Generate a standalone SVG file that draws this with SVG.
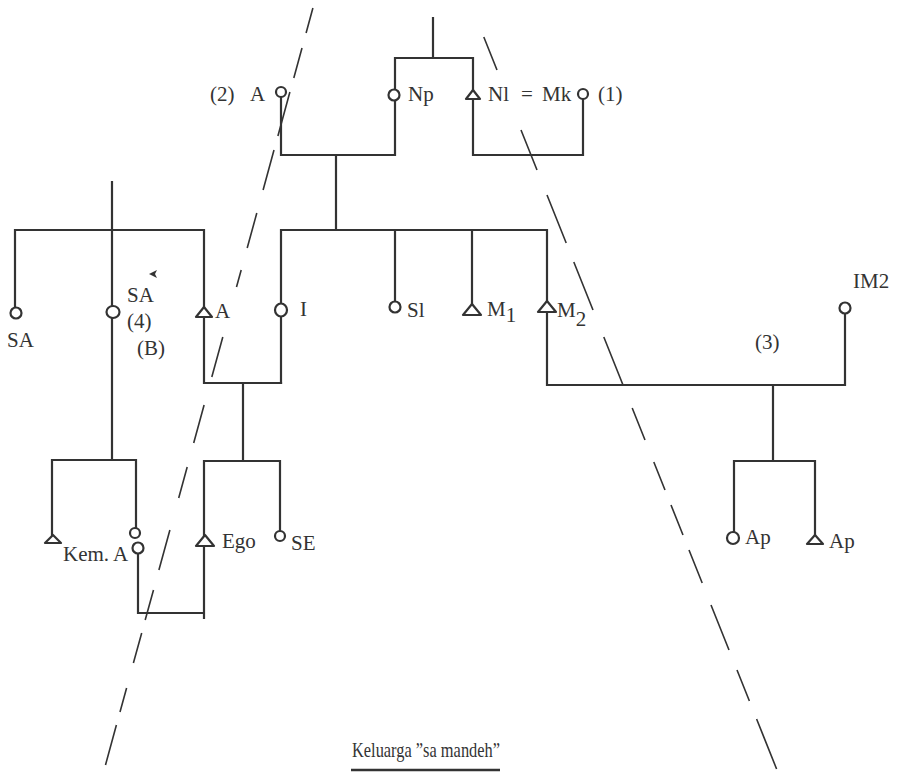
<svg xmlns="http://www.w3.org/2000/svg" width="899" height="772" viewBox="0 0 899 772">
<style>
.ln{stroke:#333;stroke-width:2.2;fill:none;stroke-linecap:square}
.ds{stroke:#333;stroke-width:1.6;fill:none}
.f{fill:#fff;stroke:#333;stroke-width:2.2}
.m{fill:#fff;stroke:#333;stroke-width:2.2;stroke-linejoin:round}
text{font-family:"Liberation Serif","Times New Roman",serif;font-size:21px;fill:#333}
</style>
<rect width="899" height="772" fill="#fff"/>
<g id="dashed-lines">
<path class="ds" d="M312.9,8L306.1,33M302,48L293.8,78M289.9,92L277.9,136M274,150L263.1,190M256.8,213L247.2,248M241.2,270L236.5,287M222.8,337L211.8,377M204.1,405L193.7,443M187.2,467L178.7,498M169.9,530L158.9,570M153.5,590L145.2,620M141.7,633L133.4,663M126.6,688L120,712M116.4,725L105.5,765"/>
<path class="ds" d="M483.8,37L497,70M521,130L537,170M547,195L566.2,243M573.8,262L593,310M603.8,337L623,385M632.2,408L645,440M653.8,462L665,490M671,505L683,535M689,550L702.2,583M711,605L729,650M737,670L749.4,701M756.6,719L776.6,769"/>
</g>
<g id="connectors">
<path class="ln" d="M433,18V58M395,58H473M395,58V155M473,58V155M281,92V155H395M473,155H583V94M336,155V230M281,230H547M281,230V383M395,230V307M472,230V304M547,230V385H845V308M773,385V461M734,461H815M734,461V538M815,461V535"/>
<path class="ln" d="M112,182V460M15,230H204M15,230V313M204,230V383H281M243,383V461M204,461H280M204,461V613M280,461V536M52,460H136M52,460V535M136,460V533M138,548V613H204V618"/>
</g>
<g id="node-A-top"><circle class="f" cx="281" cy="92" r="5"/><text x="210" y="101">(2)</text><text x="250" y="101">A</text></g>
<g id="node-Np"><circle class="f" cx="394" cy="95" r="5.5"/><text x="408" y="101">Np</text></g>
<g id="node-Nl"><polygon class="m" points="473,90 480,99 466,99"/><text y="101"><tspan x="488">Nl</tspan><tspan x="521">=</tspan><tspan x="542">Mk</tspan></text></g>
<g id="node-Mk"><circle class="f" cx="583" cy="94" r="5"/><text x="598" y="101">(1)</text></g>
<g id="node-SA-left"><circle class="f" cx="16" cy="313" r="5.5" stroke-width="3.2"/><text x="7" y="347">SA</text></g>
<g id="node-SA-4"><ellipse class="f" cx="113" cy="312" rx="6.5" ry="6"/><text x="127" y="302">SA</text><text x="127" y="328">(4)</text><text x="137" y="355">(B)</text><polygon points="149,274 157,270 155,274 157,278" fill="#333"/></g>
<g id="node-A"><polygon class="m" points="204,307 212,317 196,317"/><text x="215" y="318">A</text></g>
<g id="node-I"><ellipse class="f" cx="281" cy="310" rx="6" ry="6.5"/><text x="300" y="316">I</text></g>
<g id="node-Sl"><circle class="f" cx="395" cy="307" r="5.5"/><text x="407" y="317">Sl</text></g>
<g id="node-M1"><polygon class="m" points="472,304 481,315 463,315"/><text x="487" y="316">M<tspan dy="6">1</tspan></text></g>
<g id="node-M2"><polygon class="m" points="547,301 556,312 538,312"/><text x="557" y="317">M<tspan dy="9">2</tspan></text></g>
<g id="node-IM2"><circle class="f" cx="845" cy="308" r="5.5"/><text x="853" y="288">IM2</text></g>
<g id="label-3"><text x="755" y="349">(3)</text></g>
<g id="node-Ap-f"><circle class="f" cx="733" cy="538" r="6"/><text x="745" y="544">Ap</text></g>
<g id="node-Ap-m"><polygon class="m" points="815,535 823,544 807,544"/><text x="829" y="548">Ap</text></g>
<g id="node-Kem-m"><polygon class="m" points="53,535 61,543 45,543"/></g>
<g id="node-KemA"><circle class="f" cx="135" cy="533" r="5"/><circle class="f" cx="138" cy="548" r="5.5"/><text x="63" y="561">Kem.<tspan x="113">A</tspan></text></g>
<g id="node-Ego"><polygon class="m" points="205,535 214,546 196,546"/><text x="222" y="548">Ego</text></g>
<g id="node-SE"><circle class="f" cx="280" cy="536" r="5"/><text x="291" y="550">SE</text></g>
<g id="title"><text x="352" y="757" font-size="24" textLength="148" lengthAdjust="spacingAndGlyphs">Keluarga ”sa mandeh”</text><line x1="351" y1="770" x2="500" y2="770" stroke="#333" stroke-width="2.5"/></g>
</svg>
